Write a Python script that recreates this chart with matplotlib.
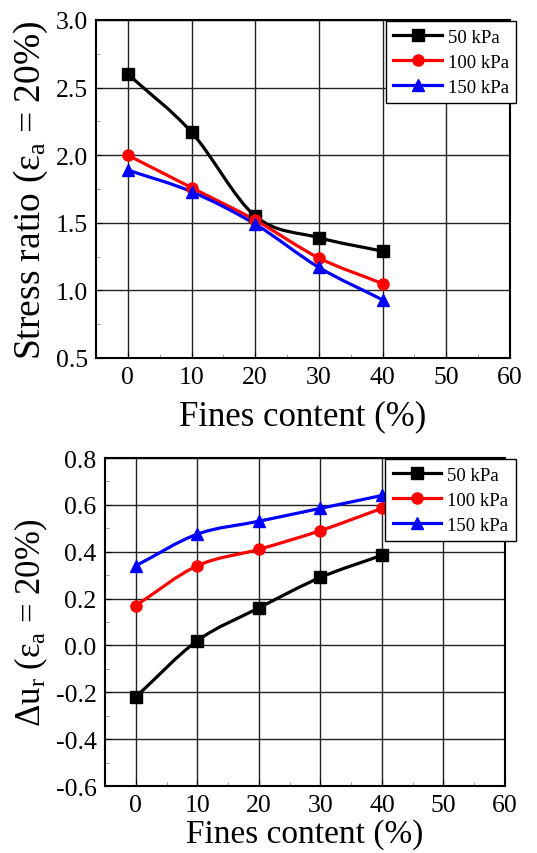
import numpy as np
import matplotlib.pyplot as plt
from matplotlib.path import Path
from matplotlib.patches import PathPatch
from matplotlib.ticker import MultipleLocator

plt.rcParams['font.family'] = ['Liberation Serif', 'DejaVu Serif']
plt.rcParams['mathtext.fontset'] = 'custom'
plt.rcParams['mathtext.rm'] = 'Liberation Serif'
plt.rcParams['mathtext.it'] = 'Liberation Serif'

fines = [0, 10, 20, 30, 40]
labels = ['50 kPa', '100 kPa', '150 kPa']
colors = ['black', 'red', 'blue']
markers = ['s', 'o', '^']

# stress ratio at 20% axial strain
sr_50 = [2.60, 2.17, 1.55, 1.39, 1.29]
sr_100 = [2.00, 1.76, 1.52, 1.24, 1.05]
sr_150 = [1.89, 1.73, 1.49, 1.17, 0.93]

# residual pore pressure ratio at 20% axial strain
du_50 = [-0.22, 0.02, 0.16, 0.29, 0.385]
du_100 = [0.17, 0.34, 0.41, 0.49, 0.585]
du_150 = [0.34, 0.475, 0.53, 0.585, 0.64]


def smooth_path(x, y):
    # Catmull-Rom style cubic Bezier through the points
    x = np.asarray(x, float)
    y = np.asarray(y, float)
    pts = np.column_stack([x, y])
    verts = [pts[0]]
    codes = [Path.MOVETO]
    n = len(pts)
    for i in range(n - 1):
        p0 = pts[i - 1] if i > 0 else 2 * pts[i] - pts[i + 1]
        p1 = pts[i]
        p2 = pts[i + 1]
        p3 = pts[i + 2] if i + 2 < n else 2 * pts[i + 1] - pts[i]
        c1 = p1 + (p2 - p0) / 6.0
        c2 = p2 - (p3 - p1) / 6.0
        verts += [c1, c2, p2]
        codes += [Path.CURVE4] * 3
    return Path(verts, codes)


def panel(ax, series, ylim, ystep, ylabel, ylabel_size, xlabel_size, xlabel_pad):
    for vals, lab, c, m in zip(series, labels, colors, markers):
        ax.add_patch(PathPatch(smooth_path(fines, vals), facecolor='none',
                               edgecolor=c, lw=2.3, zorder=3))
        ax.plot(fines, vals, ls='none', marker=m, color=c, ms=8, zorder=4)
        ax.plot([], [], color=c, lw=2.3, marker=m, ms=8, label=lab)
    ax.set_xlim(-5, 60)
    ax.set_ylim(*ylim)
    ax.xaxis.set_major_locator(MultipleLocator(10))
    ax.xaxis.set_minor_locator(MultipleLocator(5))
    ax.yaxis.set_major_locator(MultipleLocator(ystep))
    ax.yaxis.set_minor_locator(MultipleLocator(ystep / 2))
    ax.yaxis.set_major_formatter(plt.FormatStrFormatter('%.1f'))
    ax.grid(True, which='major', color='#222222', lw=1.0)
    ax.tick_params(which='both', direction='in', labelsize=18.5, pad=6)
    ax.tick_params(which='major', length=4)
    ax.tick_params(which='minor', length=3, color='#888888')
    for s in ax.spines.values():
        s.set_linewidth(1.5)
    ax.set_xlabel('Fines content (%)', fontsize=xlabel_size, labelpad=xlabel_pad)
    ax.set_ylabel(ylabel, fontsize=ylabel_size, labelpad=4)
    leg = ax.legend(loc='upper left', bbox_to_anchor=(0.70, 0.997),
                    fontsize=13.5, frameon=True, fancybox=False,
                    edgecolor='black', framealpha=1, handlelength=2.6,
                    borderpad=0.4, labelspacing=0.42, handletextpad=0.3,
                    borderaxespad=0)
    leg.get_frame().set_linewidth(1.0)
    leg.set_zorder(5)


fig = plt.figure(figsize=(5.37, 8.54), dpi=100)
ax1 = fig.add_axes([96 / 537, 1 - 359 / 854, 414 / 537, 338 / 854])
ax2 = fig.add_axes([105 / 537, 1 - 787 / 854, 400 / 537, 328 / 854])

panel(ax1, [sr_50, sr_100, sr_150], (0.5, 3.0), 0.5,
      r'Stress ratio ($\epsilon_{\rm a}$ = 20%)', 27, 25, 8)
panel(ax2, [du_50, du_100, du_150], (-0.6, 0.8), 0.2,
      r'$\Delta$u$_{\rm r}$ ($\epsilon_{\rm a}$ = 20%)', 25, 24, 1)

fig.savefig('out.png', dpi=100)
